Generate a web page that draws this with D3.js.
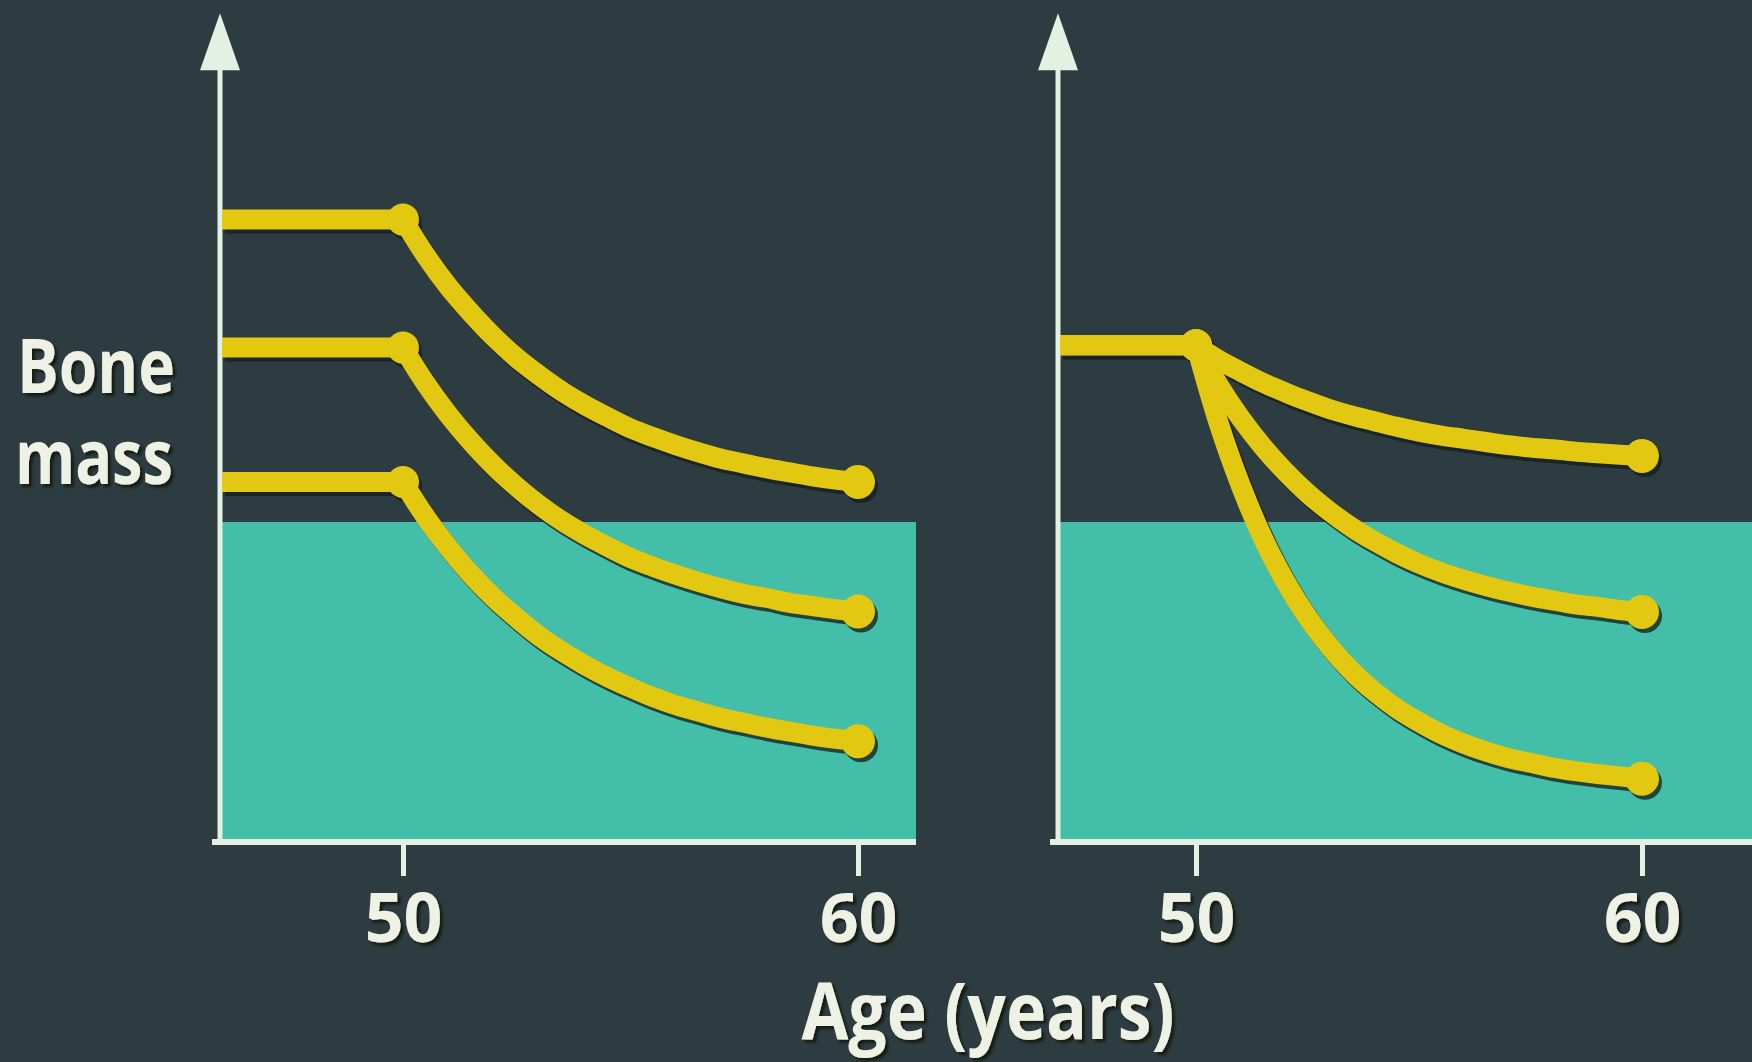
<!DOCTYPE html>
<html><head><meta charset="utf-8">
<script src="https://cdn.jsdelivr.net/npm/d3@7"></script>
<style>html,body{margin:0;padding:0;background:#2d3c40;overflow:hidden}</style>
</head><body>
<svg id="chart" width="1752" height="1062"></svg>
<script>
// ---- data (bone mass, arbitrary units; age in years) ----
const ages = [50, 50.5, 51, 51.5, 52, 52.5, 53, 53.5, 54, 54.5, 55,
              55.5, 56, 56.5, 57, 57.5, 58, 58.5, 59, 59.5, 60];
const tickValues = [50, 60];
const tickLabels = ["50", "60"];
const yLabelLines = ["Bone", "mass"];
const xLabel = "Age (years)";
const thresholdValue = 40;   // top of the teal zone

// left panel: three starting levels, same rate of loss
const leftHigh = [77.8, 73.3, 69.4, 66.1, 63.1, 60.5, 58.3, 56.3, 54.6, 53.1, 51.7,
                  50.6, 49.6, 48.7, 47.9, 47.3, 46.7, 46.2, 45.7, 45.3, 45.0];
const leftMid  = [61.8, 57.3, 53.4, 50.0, 47.0, 44.4, 42.1, 40.1, 38.4, 36.9, 35.5,
                  34.4, 33.4, 32.5, 31.7, 31.0, 30.5, 29.9, 29.5, 29.1, 28.8];
const leftLow  = [45.0, 40.6, 36.8, 33.4, 30.5, 28.0, 25.7, 23.8, 22.1, 20.6, 19.3,
                  18.1, 17.1, 16.3, 15.5, 14.9, 14.3, 13.8, 13.3, 12.9, 12.6];
// right panel: one starting level, three rates of loss
const rightSlow = [62.1, 60.3, 58.8, 57.4, 56.2, 55.1, 54.1, 53.3, 52.6, 51.9, 51.3,
                   50.8, 50.4, 50.0, 49.6, 49.3, 49.1, 48.8, 48.6, 48.4, 48.25];
const rightMid  = [62.1, 57.2, 53.0, 49.4, 46.3, 43.6, 41.3, 39.3, 37.6, 36.1, 34.8,
                   33.7, 32.8, 32.0, 31.3, 30.7, 30.2, 29.7, 29.4, 29.0, 28.75];
const rightFast = [62.1, 52.5, 44.6, 38.0, 32.6, 28.1, 24.4, 21.3, 18.8, 16.7, 15.0,
                   13.5, 12.3, 11.3, 10.5, 9.9, 9.3, 8.85, 8.5, 8.2, 7.9];

// ---- styling / layout ----
const BG = "#2d3c40", TEAL = "#43bea8", YELLOW = "#e2c810", AXIS = "#e4f0e2",
      TEXT = "#eef2e4", SHADOW = "#141c18";
const FONT = "'Open Sans', 'Noto Sans', sans-serif";

const svg = d3.select("#chart");
const defs = svg.append("defs");
const f = defs.append("filter").attr("id", "tshadow").attr("x", "-10%").attr("y", "-10%")
  .attr("width", "130%").attr("height", "130%");
f.append("feDropShadow").attr("dx", 3).attr("dy", 3).attr("stdDeviation", 0.8)
  .attr("flood-color", SHADOW).attr("flood-opacity", 1);

svg.append("rect").attr("width", 1752).attr("height", 1062).attr("fill", BG);

const y = d3.scaleLinear().domain([0, 100]).range([842, 42]);
const axisTopValue = 103.6;

const panels = [
  { x: d3.scaleLinear().domain([50, 60]).range([403, 858]), left: 220, right: 916,
    series: [leftHigh, leftMid, leftLow] },
  { x: d3.scaleLinear().domain([50, 60]).range([1196, 1642]), left: 1058, right: 1752,
    series: [rightSlow, rightMid, rightFast] }
];

const curve = d3.line().x(d => d[0]).y(d => d[1]).curve(d3.curveMonotoneX);

panels.forEach(p => {
  const g = svg.append("g");
  const x = p.x;
  const xL = p.left, xR = p.right;

  // teal zone
  g.append("rect").attr("x", xL).attr("y", y(thresholdValue))
    .attr("width", xR - xL).attr("height", y(0) - y(thresholdValue)).attr("fill", TEAL);

  // axes
  g.append("line").attr("x1", xL).attr("x2", xL).attr("y1", y(0) + 2.5).attr("y2", y(axisTopValue) + 50)
    .attr("stroke", AXIS).attr("stroke-width", 5);
  g.append("path")
    .attr("d", `M${xL},${y(axisTopValue)} L${xL - 20},${y(axisTopValue) + 57} L${xL + 20},${y(axisTopValue) + 57} Z`)
    .attr("fill", AXIS);
  g.append("line").attr("x1", xL - 8).attr("x2", xR).attr("y1", y(0)).attr("y2", y(0))
    .attr("stroke", AXIS).attr("stroke-width", 6);

  const ax = d3.axisBottom(x).tickValues(tickValues).tickFormat((d, i) => tickLabels[i])
    .tickSize(34).tickSizeOuter(0).tickPadding(18);
  const axG = g.append("g").attr("transform", `translate(0,${y(0)})`).call(ax);
  axG.select(".domain").remove();
  axG.selectAll(".tick line").attr("stroke", AXIS).attr("stroke-width", 5);
  axG.selectAll(".tick text").attr("fill", TEXT).attr("font-family", FONT)
    .attr("font-weight", 700).attr("font-size", 68)
    .attr("filter", "url(#tshadow)");

  // curves with shadow
  [[SHADOW, 3, 4, 0.75], [YELLOW, 0, 0, 1]].forEach(([col, dx, dy, op]) => {
    const lg = g.append("g").attr("transform", `translate(${dx},${dy})`).attr("opacity", op);
    p.series.forEach(vals => {
      // flat segment before age 50
      lg.append("line").attr("x1", xL + 2).attr("x2", x(ages[0])).attr("y1", y(vals[0])).attr("y2", y(vals[0]))
        .attr("stroke", col).attr("stroke-width", 20);
      const pts = ages.map((a, i) => [x(a), y(vals[i])]);
      lg.append("path").attr("d", curve(pts)).attr("fill", "none")
        .attr("stroke", col).attr("stroke-width", 20).attr("stroke-linecap", "round");
      lg.append("circle").attr("cx", x(ages[0])).attr("cy", y(vals[0])).attr("r", 16).attr("fill", col);
      lg.append("circle").attr("cx", x(ages[ages.length - 1])).attr("cy", y(vals[vals.length - 1]))
        .attr("r", 17).attr("fill", col);
    });
  });
});

// y axis title: one text element, two lines
const yt = svg.append("text")
  .attr("fill", TEXT).attr("font-family", FONT).attr("font-weight", 700)
  .attr("font-size", 76).attr("text-anchor", "middle").attr("filter", "url(#tshadow)");
yt.append("tspan").attr("x", 96).attr("y", 393)
  .attr("textLength", 158).attr("lengthAdjust", "spacingAndGlyphs").text(yLabelLines[0]);
yt.append("tspan").attr("x", 94).attr("y", 484)
  .attr("textLength", 158).attr("lengthAdjust", "spacingAndGlyphs").text(yLabelLines[1]);

// x axis title
svg.append("text").attr("x", 988).attr("y", 1039)
  .attr("fill", TEXT).attr("font-family", FONT).attr("font-weight", 700)
  .attr("font-size", 78).attr("text-anchor", "middle")
  .attr("textLength", 373).attr("lengthAdjust", "spacingAndGlyphs")
  .attr("filter", "url(#tshadow)").text(xLabel);
</script>
</body></html>
